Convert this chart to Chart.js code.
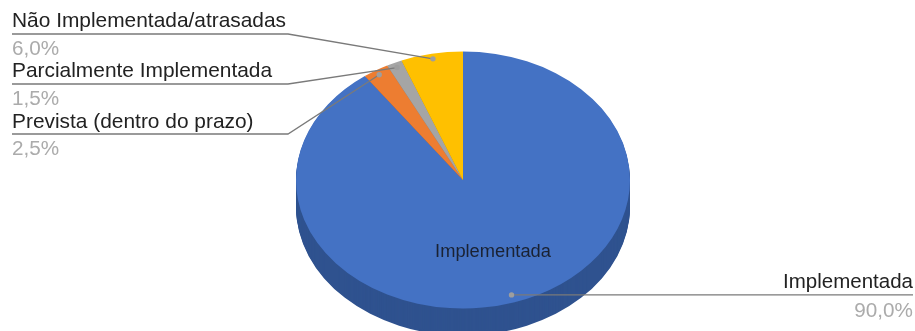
<!DOCTYPE html>
<html lang="pt">
<head>
    <meta charset="UTF-8">
    <title>Implementada</title>
    <script src="https://cdn.jsdelivr.net/npm/chart.js"></script>
    <style>
        html, body { margin: 0; padding: 0; background: #fff; overflow: hidden; }
        /* the reference is a slightly soft screenshot */
        canvas { display: block; filter: blur(0.4px); }
    </style>
</head>
<body>
    <canvas id="pie" width="915" height="331"></canvas>
    <script>
        const categories = ['Implementada', 'Prevista (dentro do prazo)', 'Parcialmente Implementada', 'Não Implementada/atrasadas'];
        const values = [90.0, 2.5, 1.5, 6.0];
        const colors = ['#4472c4', '#ed7d31', '#a5a5a5', '#ffc000'];
        const sideColors = ['#2f528f', '#ad5a24', '#787878', '#ba8c00'];

        // tilt of the 3d pie
        const RADIUS = 167;
        const SQUASH = 128.5 / 167;
        const DEPTH = 27;

        // where the callout text sits, one entry per slice
        const callouts = [
            { side: 'right', x0: 913, x1: 511, size: 20.5, nameY: 288, valueY: 317, anchor: 0.94 },
            { side: 'left', x0: 12, x1: 288, size: 20.9, nameY: 128, lineY: 134, valueY: 155, anchor: 0.96 },
            { side: 'left', x0: 12, x1: 288, size: 20.9, nameY: 77, lineY: 84, valueY: 105, anchor: 0.96 },
            { side: 'left', x0: 12, x1: 288, size: 20.9, nameY: 27, lineY: 34, valueY: 55, anchor: 0.96 }
        ];

        const pct = v => v.toFixed(1).replace('.', ',') + '%';

        const tiltPlugin = {
            id: 'tilt',
            beforeDatasetsDraw(chart) {
                const ctx = chart.ctx;
                const arcs = chart.getDatasetMeta(0).data;
                ctx.save();
                // side wall, stacked copies of each slice pushed down
                for (let d = DEPTH; d > 0; d--) {
                    arcs.forEach((arc, i) => {
                        ctx.save();
                        ctx.translate(arc.x, arc.y + d);
                        ctx.scale(1, SQUASH);
                        ctx.fillStyle = sideColors[i];
                        ctx.beginPath();
                        ctx.moveTo(0, 0);
                        ctx.arc(0, 0, arc.outerRadius, arc.startAngle, arc.endAngle);
                        ctx.closePath();
                        ctx.fill();
                        ctx.restore();
                    });
                }
                const c = arcs[0];
                ctx.translate(c.x, c.y);
                ctx.scale(1, SQUASH);
                ctx.translate(-c.x, -c.y);
            },
            afterDatasetsDraw(chart) {
                chart.ctx.restore();
            },
            afterDraw(chart) {
                const ctx = chart.ctx;
                const arcs = chart.getDatasetMeta(0).data;
                ctx.save();
                arcs.forEach((arc, i) => {
                    const co = callouts[i];
                    const mid = (arc.startAngle + arc.endAngle) / 2;
                    const px = arc.x + Math.cos(mid) * arc.outerRadius * co.anchor;
                    const py = arc.y + Math.sin(mid) * arc.outerRadius * co.anchor * SQUASH;
                    const lineY = co.lineY === undefined ? py : co.lineY;

                    ctx.strokeStyle = '#7a7a7a';
                    ctx.lineWidth = 1.3;
                    ctx.beginPath();
                    ctx.moveTo(co.x0, lineY);
                    ctx.lineTo(co.x1, lineY);
                    ctx.lineTo(px, py);
                    ctx.stroke();

                    ctx.fillStyle = '#9e9e9e';
                    ctx.beginPath();
                    ctx.arc(px, py, 2.7, 0, Math.PI * 2);
                    ctx.fill();

                    ctx.textAlign = co.side;
                    ctx.textBaseline = 'alphabetic';
                    ctx.font = co.size + 'px "Liberation Sans"';
                    ctx.fillStyle = '#222222';
                    ctx.fillText(categories[i], co.x0, co.nameY);
                    ctx.font = '20.7px "Liberation Sans"';
                    ctx.fillStyle = '#ababab';
                    ctx.fillText(pct(values[i]), co.x0, co.valueY);
                });
                // label inside the big slice
                ctx.textAlign = 'center';
                ctx.font = '18.3px "Liberation Sans"';
                ctx.fillStyle = '#1a2233';
                ctx.fillText(categories[0], 493, 257);
                ctx.restore();
            }
        };

        new Chart(document.getElementById('pie'), {
            type: 'pie',
            data: {
                labels: categories,
                datasets: [{
                    data: values,
                    backgroundColor: colors,
                    borderWidth: 0,
                    clip: false
                }]
            },
            options: {
                responsive: false,
                animation: false,
                radius: RADIUS,
                layout: { padding: { left: 11, top: 29 } },
                plugins: { legend: { display: false }, tooltip: { enabled: false } }
            },
            plugins: [tiltPlugin]
        });
    </script>
</body>
</html>
